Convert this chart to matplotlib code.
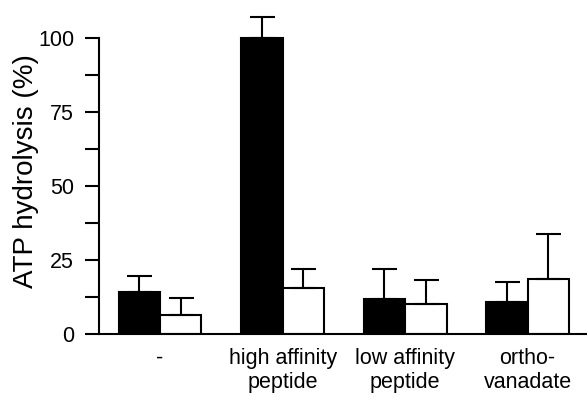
import numpy as np
import matplotlib.pyplot as plt

plt.rcParams['font.family'] = ['Liberation Sans', 'DejaVu Sans']

categories = ['-', 'high affinity\npeptide', 'low affinity\npeptide', 'ortho-\nvanadate']
black_vals = [14.4, 100.0, 11.9, 10.8]
black_err = [5.3, 7.0, 10.0, 6.8]
white_vals = [6.5, 15.7, 10.3, 18.5]
white_err = [5.8, 6.3, 8.0, 15.3]

fig = plt.figure(figsize=(5.87, 3.95), dpi=100)
ax = fig.add_axes([0.1687, 0.1537, 0.8313, 0.826])

x = np.arange(len(categories))
w = 0.3385
lw = 1.5
ax.bar(x - w / 2, black_vals, w, color='black', edgecolor='black', linewidth=lw,
       yerr=[np.zeros(4), black_err], error_kw=dict(ecolor='black', elinewidth=lw, capsize=9, capthick=lw))
ax.bar(x + w / 2, white_vals, w, color='white', edgecolor='black', linewidth=lw,
       yerr=[np.zeros(4), white_err], error_kw=dict(ecolor='black', elinewidth=lw, capsize=9, capthick=lw))

ax.set_xlim(-0.4976, 3.484)
ax.set_ylim(0, 110)
ax.spines['top'].set_visible(False)
ax.spines['right'].set_visible(False)
ax.spines['left'].set_bounds(0, 100)
ax.spines['left'].set_linewidth(lw)
ax.spines['bottom'].set_linewidth(lw)

ax.set_yticks([0, 25, 50, 75, 100])
ax.set_yticks([12.5, 37.5, 62.5, 87.5], minor=True)
ax.tick_params(axis='y', which='both', direction='out', length=10, width=lw, labelsize=15.5, pad=8)
ax.set_xticks(x)
ax.set_xticklabels(categories, fontsize=15.5, linespacing=1.2)
ax.tick_params(axis='x', length=0, pad=10)
ax.set_ylabel('ATP hydrolysis (%)', fontsize=20, labelpad=-1)

fig.savefig('out.png', dpi=100)
